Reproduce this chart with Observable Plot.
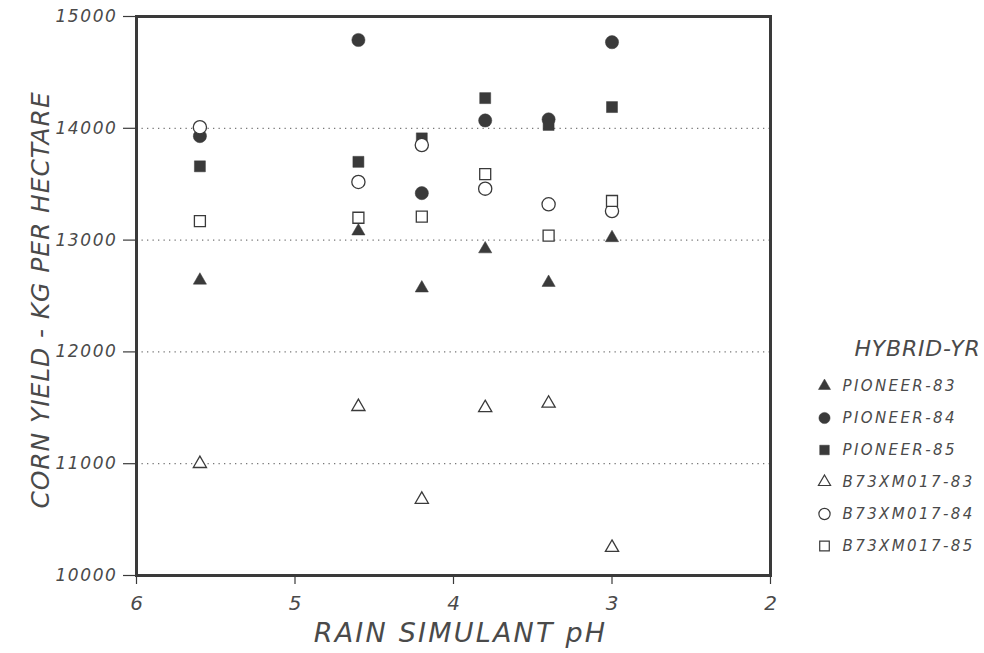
<!DOCTYPE html>
<html>
<head>
<meta charset="utf-8">
<script src="https://cdn.jsdelivr.net/npm/d3@7"></script>
<script src="https://cdn.jsdelivr.net/npm/@observablehq/plot@0.6"></script>
<style>
  html, body { margin: 0; padding: 0; background: #fff; }
  #wrap { position: relative; width: 984px; height: 653px; }
  #legend { position: absolute; left: 804px; top: 326px; }
  svg { font-family: "DejaVu Sans", sans-serif; font-style: italic; }
  .ytick text { letter-spacing: 1.6px; }
  .xtitle text { letter-spacing: 2.2px; }
  .ytitle text { letter-spacing: 0.9px; }
  .legtext text { letter-spacing: 2.4px; }
  .legtitle text { letter-spacing: 0.8px; }
</style>
</head>
<body>
<div id="wrap"><div id="main"></div><div id="legend"></div></div>
<script>
// pH levels of rain simulant
const ph = [5.6, 4.6, 4.2, 3.8, 3.4, 3.0];
// Corn yield (kg per hectare) per hybrid-year
const pioneer83 = [12640, 13080, 12570, 12920, 12620, 13020];
const pioneer84 = [13930, 14790, 13420, 14070, 14080, 14770];
const pioneer85 = [13660, 13700, 13910, 14270, 14030, 14190];
const b73_83 = [11000, 11510, 10680, 11500, 11540, 10250];
const b73_84 = [14010, 13520, 13850, 13460, 13320, 13260];
const b73_85 = [13170, 13200, 13210, 13590, 13040, 13350];

const seriesNames = ["PIONEER-83", "PIONEER-84", "PIONEER-85", "B73XM017-83", "B73XM017-84", "B73XM017-85"];
const seriesSymbols = ["triangle", "circle", "square", "triangle", "circle", "square"];
const seriesFilled = [true, true, true, false, false, false];
const seriesValues = [pioneer83, pioneer84, pioneer85, b73_83, b73_84, b73_85];

const xTicks = [6, 5, 4, 3, 2];
const yTicks = [10000, 11000, 12000, 13000, 14000, 15000];
const gridValues = [11000, 12000, 13000, 14000];

const ink = "#3a3a3a";
const textInk = "#4a4a4a";

const data = [];
seriesNames.forEach((name, i) => {
  seriesValues[i].forEach((v, j) => {
    data.push({series: name, symbol: seriesSymbols[i], filled: seriesFilled[i], ph: ph[j], yield: v});
  });
});

const symbolOpts = {domain: ["triangle", "circle", "square"], range: [d3.symbolTriangle, d3.symbolCircle, d3.symbolSquare]};
const markSize = d => d.symbol === "triangle" ? 4.9 : d.symbol === "square" ? 6.2 : 6.6;
const legendSize = d => d.symbol === "triangle" ? 4.5 : d.symbol === "square" ? 5.4 : 5.6;

const main = Plot.plot({
  width: 984,
  height: 653,
  marginLeft: 136,
  marginRight: 214,
  marginTop: 16,
  marginBottom: 78,
  x: {domain: [6, 2], label: null},
  y: {domain: [10000, 15000], label: null},
  r: {type: "identity"},
  symbol: symbolOpts,
  style: {fontFamily: "DejaVu Sans, sans-serif", fontStyle: "italic"},
  marks: [
    Plot.ruleY(gridValues, {stroke: "#777", strokeWidth: 1.3, strokeDasharray: "1.3,4.2"}),
    Plot.dot(data.filter(d => d.filled), {x: "ph", y: "yield", symbol: "symbol", r: markSize, fill: ink, stroke: ink, strokeWidth: 0.5}),
    Plot.dot(data.filter(d => !d.filled), {x: "ph", y: "yield", symbol: "symbol", r: markSize, fill: "white", stroke: ink, strokeWidth: 1.3}),
    Plot.frame({stroke: ink, strokeWidth: 3}),
    Plot.axisX({ticks: xTicks, tickFormat: d => String(d), tickSize: 9, tickPadding: 11, fontSize: 20, label: null, stroke: ink, color: textInk, strokeWidth: 1.2}),
    Plot.axisY({ticks: yTicks, tickFormat: d => String(d), tickSize: 13, tickPadding: 6, fontSize: 17, label: null, stroke: ink, color: textInk, strokeWidth: 1.2, className: "ytick"}),
    Plot.text(["RAIN SIMULANT pH"], {frameAnchor: "bottom", dy: 66, dx: 7, fontSize: 27, fill: textInk, fontStyle: "italic", className: "xtitle"}),
    Plot.text(["CORN YIELD - KG PER HECTARE"], {frameAnchor: "left", dx: -96, dy: 4, rotate: -90, textAnchor: "middle", fontSize: 25, fill: textInk, fontStyle: "italic", className: "ytitle"})
  ]
});
document.getElementById("main").appendChild(main);

const legendData = seriesNames.map((name, i) => ({series: name, symbol: seriesSymbols[i], filled: seriesFilled[i]}));

const legend = Plot.plot({
  width: 180,
  height: 240,
  marginLeft: 20,
  marginRight: 4,
  marginTop: 40,
  marginBottom: 2,
  x: {axis: null, domain: [0, 1]},
  y: {domain: seriesNames, axis: null, type: "band"},
  r: {type: "identity"},
  symbol: symbolOpts,
  style: {fontFamily: "DejaVu Sans, sans-serif", fontStyle: "italic"},
  marks: [
    Plot.dot(legendData.filter(d => d.filled), {y: "series", frameAnchor: "left", symbol: "symbol", r: legendSize, fill: ink, stroke: ink, strokeWidth: 0.5}),
    Plot.dot(legendData.filter(d => !d.filled), {y: "series", frameAnchor: "left", symbol: "symbol", r: legendSize, fill: "white", stroke: ink, strokeWidth: 1.2}),
    Plot.text(legendData, {y: "series", text: "series", frameAnchor: "left", dx: 18, textAnchor: "start", fontSize: 15, fill: textInk, className: "legtext"}),
    Plot.text(["HYBRID-YR"], {frameAnchor: "top-right", dy: -26, textAnchor: "end", fontSize: 22, fill: textInk, className: "legtitle"})
  ]
});
document.getElementById("legend").appendChild(legend);
</script>
</body>
</html>
